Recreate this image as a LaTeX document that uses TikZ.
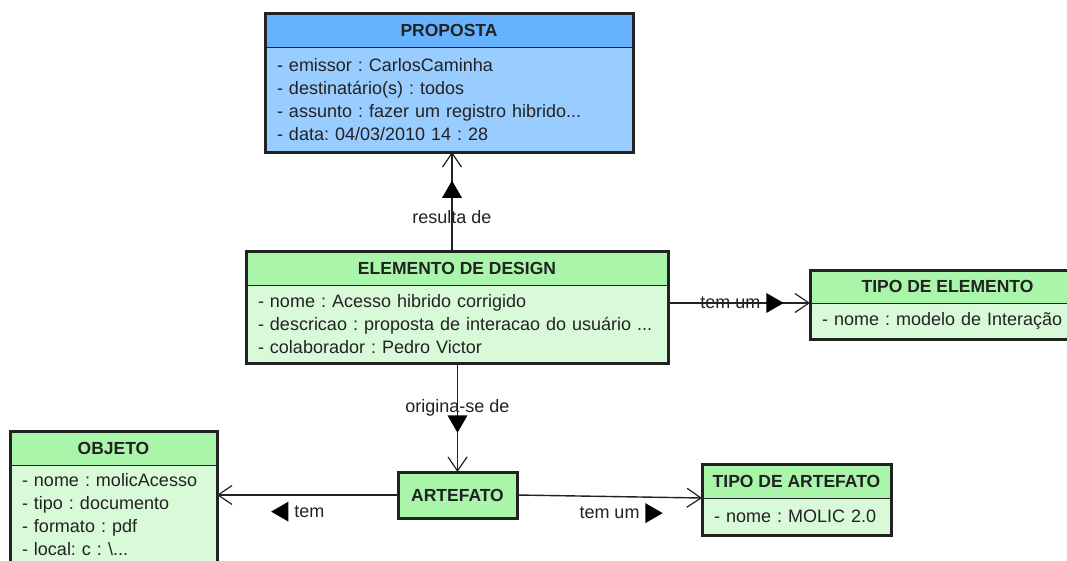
\documentclass[tikz,border=0pt]{standalone}
\usepackage{fontspec}
\setmainfont{Liberation Sans}
\usetikzlibrary{positioning,arrows.meta,shapes.geometric}
\definecolor{blue-head}{HTML}{66B2FF}
\definecolor{blue-body}{HTML}{99CCFF}
\definecolor{green-head}{HTML}{A9F5A9}
\definecolor{green-body}{HTML}{D9FAD9}
\definecolor{ink}{HTML}{222222}
\newcommand{\headfont}{\fontsize{17.5}{20}\bfseries\selectfont}
\newcommand{\bodyfont}{\fontsize{18}{23}\selectfont\frenchspacing}
\tikzset{
    class-head/.style = {draw=ink, thin, rectangle, anchor=north west, inner sep=0pt, outer sep=0pt, minimum height=34pt, text=ink, font=\headfont},
    class-body/.style = {draw=ink, thin, rectangle, inner xsep=12pt, inner ysep=0pt, outer sep=0pt, align=left, text width=#1, text=ink, font=\bodyfont},
    class-frame/.style = {draw=ink, line width=3pt},
    link/.style = {draw=ink, line width=1.4pt, -{Straight Barb[length=14pt, width=19pt, line width=1.2pt]}},
    link-label/.style = {inner sep=0pt, text=ink, font=\bodyfont},
    dir-mark/.style = {regular polygon, regular polygon sides=3, fill=black, inner sep=0pt, minimum size=23pt, shape border rotate=#1},
}

\begin{document}
\begin{tikzpicture}[x=1pt, y=-1pt]
\fill[white] (0,0) rectangle (1067,560);
\useasboundingbox (0,0) rectangle (1067,560);
\clip (0,0) rectangle (1067,560);

\node[class-head, fill=blue-head, minimum width=368pt] (prop-head) at (265,13) {PROPOSTA};
\node[class-body=344pt, fill=blue-body, minimum height=105pt, below=0pt of prop-head] (prop-body) {- emissor : CarlosCaminha\\- destinatário(s) : todos\\- assunto : fazer um registro hibrido...\\- data: 04/03/2010 14 : 28};
\draw[class-frame] (prop-head.north west) rectangle (prop-body.south east);

\node[class-head, fill=green-head, minimum width=422pt] (elem-head) at (246,251) {ELEMENTO DE DESIGN};
\node[class-body=398pt, fill=green-body, minimum height=78pt, below=0pt of elem-head] (elem-body) {- nome : Acesso hibrido corrigido\\- descricao : proposta de interacao do usuário ...\\- colaborador : Pedro Victor};
\draw[class-frame] (elem-head.north west) rectangle (elem-body.south east);

\node[class-head, fill=green-head, minimum width=275pt, minimum height=33pt] (telem-head) at (810,270) {TIPO DE ELEMENTO};
\node[class-body=251pt, fill=green-body, minimum height=36pt, below=0pt of telem-head] (telem-body) {- nome : modelo de Interação};
\draw[class-frame] (telem-head.north west) rectangle (telem-body.south east);

\node[class-head, fill=green-head, minimum width=207pt] (obj-head) at (10,431) {OBJETO};
\node[class-body=183pt, fill=green-body, minimum height=100pt, below=0pt of obj-head] (obj-body) {- nome : molicAcesso\\- tipo : documento\\- formato : pdf\\- local: c : \textbackslash...};
\draw[class-frame] (obj-head.north west) rectangle (obj-body.south east);

\node[class-head, fill=green-head, minimum width=119pt, minimum height=46pt] (art) at (398,472) {ARTEFATO};
\draw[class-frame] (art.north west) rectangle (art.south east);

\node[class-head, fill=green-head, minimum width=189pt] (tart-head) at (702,464) {TIPO DE ARTEFATO};
\node[class-body=165pt, fill=green-body, minimum height=37pt, below=0pt of tart-head] (tart-body) {- nome : MOLIC 2.0};
\draw[class-frame] (tart-head.north west) rectangle (tart-body.south east);

\draw[link] ([xshift=-5pt]elem-head.north) -- node[link-label, pos=0.34] (lbl-resulta) {resulta de} ([xshift=3pt]prop-body.south);
\node[dir-mark=0, above=12pt of lbl-resulta] (mark-resulta) {};

\draw[link] (elem-body.east |- telem-body.north west) -- node[link-label, pos=0.44] (lbl-temum1) {tem um} (telem-body.north west);
\node[dir-mark=-90, right=5pt of lbl-temum1] (mark-temum1) {};

\draw[link] (elem-body.south -| art.north) -- node[link-label, pos=0.41] (lbl-origina) {origina-se de} (art.north);
\node[dir-mark=180, below=-1.5pt of lbl-origina] (mark-origina) {};

\draw[link] (art.west) -- node[link-label, pos=0.49, below=10pt] (lbl-tem) {tem} (art.west -| obj-body.east);
\node[dir-mark=90, left=5pt of lbl-tem] (mark-tem) {};

\draw[link] (art.east) -- node[link-label, pos=0.5, below=10pt] (lbl-temum2) {tem um} (tart-body.north west);
\node[dir-mark=-90, right=5pt of lbl-temum2] (mark-temum2) {};
\end{tikzpicture}
\end{document}
